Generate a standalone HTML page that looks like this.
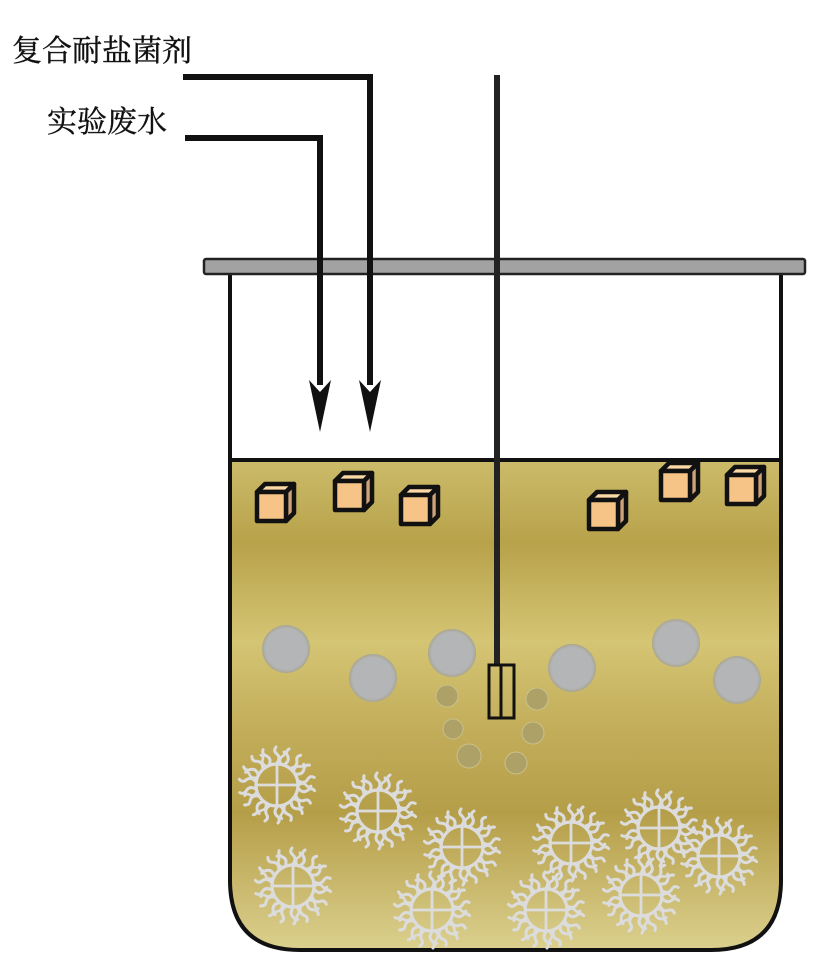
<!DOCTYPE html>
<html><head><meta charset="utf-8"><style>
html,body{margin:0;padding:0;background:#fff;width:827px;height:956px;overflow:hidden}
</style></head><body>
<svg width="827" height="956" viewBox="0 0 827 956" xmlns="http://www.w3.org/2000/svg">
<defs>
<linearGradient id="liq" x1="0" y1="460" x2="0" y2="950" gradientUnits="userSpaceOnUse">
<stop offset="0" stop-color="#cbbb6a"/>
<stop offset="0.17" stop-color="#b8a24a"/>
<stop offset="0.37" stop-color="#d4c574"/>
<stop offset="0.55" stop-color="#c2ad5a"/>
<stop offset="0.72" stop-color="#b59e48"/>
<stop offset="1" stop-color="#dbd08e"/>
</linearGradient>
<radialGradient id="gc"><stop offset="0.85" stop-color="#b4b5b7"/><stop offset="1" stop-color="#a9a690"/></radialGradient>
<g id="hair" fill="none" stroke="#dcdcdc" stroke-width="3" stroke-linecap="round">
<path d="M0,-22 q4,-5 0,-9 q-4,-3 -1,-7"/>
</g>
<g id="hair2" fill="none" stroke="#dcdcdc" stroke-width="2.6" stroke-linecap="round">
<path d="M0,-22 q-3,-4 0,-7 q3,-2 1,-5"/>
</g>
<g id="bac">
<circle r="21" fill="none" stroke="#dcdcdc" stroke-width="3.2"/>
<line x1="-21" y1="0" x2="21" y2="0" stroke="#dcdcdc" stroke-width="2.8"/>
<line x1="0" y1="-21" x2="0" y2="21" stroke="#dcdcdc" stroke-width="2.8"/>
<use href="#hair"/><use href="#hair" transform="rotate(20)"/><use href="#hair" transform="rotate(40)"/>
<use href="#hair" transform="rotate(60)"/><use href="#hair" transform="rotate(80)"/><use href="#hair" transform="rotate(100)"/>
<use href="#hair" transform="rotate(120)"/><use href="#hair" transform="rotate(140)"/><use href="#hair" transform="rotate(160)"/>
<use href="#hair" transform="rotate(180)"/><use href="#hair" transform="rotate(200)"/><use href="#hair" transform="rotate(220)"/>
<use href="#hair" transform="rotate(240)"/><use href="#hair" transform="rotate(260)"/><use href="#hair" transform="rotate(280)"/>
<use href="#hair" transform="rotate(300)"/><use href="#hair" transform="rotate(320)"/><use href="#hair" transform="rotate(340)"/>
<use href="#hair2" transform="rotate(10)"/><use href="#hair2" transform="rotate(50)"/><use href="#hair2" transform="rotate(90)"/>
<use href="#hair2" transform="rotate(130)"/><use href="#hair2" transform="rotate(170)"/><use href="#hair2" transform="rotate(210)"/>
<use href="#hair2" transform="rotate(250)"/><use href="#hair2" transform="rotate(290)"/><use href="#hair2" transform="rotate(330)"/>
</g>
<g id="cube" stroke="#111" stroke-width="4.5" stroke-linejoin="round">
<path d="M0,8 l8,-8 h29 l-8,8 z" fill="#fbd9a6"/>
<path d="M29,8 l8,-8 v29 l-8,8 z" fill="#cfa37a"/>
<rect x="0" y="8" width="29" height="29" fill="#f6c486"/>
</g>
</defs>

<path d="M230,460 H781 V880 Q781,950 711,950 H300 Q230,950 230,880 Z" fill="url(#liq)"/>
<path d="M230,272 V880 Q230,950 300,950 H711 Q781,950 781,880 V272" fill="none" stroke="#111" stroke-width="4"/>
<line x1="230" y1="460" x2="781" y2="460" stroke="#111" stroke-width="4"/>
<rect x="204" y="259" width="601" height="15" rx="2" fill="#a2a2a2" stroke="#222" stroke-width="2.5"/>

<path d="M183,77 H370 V385" fill="none" stroke="#111" stroke-width="6"/>
<path d="M359,380 L370,432 L381,380 L370,392 Z" fill="#111"/>
<path d="M185,138 H320 V385" fill="none" stroke="#111" stroke-width="6"/>
<path d="M309,380 L320,432 L331,380 L320,392 Z" fill="#111"/>

<line x1="497" y1="75" x2="497" y2="665" stroke="#222" stroke-width="6"/>
<rect x="489" y="665" width="25" height="53" fill="none" stroke="#111" stroke-width="3"/>
<line x1="501" y1="665" x2="501" y2="718" stroke="#111" stroke-width="3"/>

<use href="#cube" x="257" y="484"/>
<use href="#cube" x="335" y="473"/>
<use href="#cube" x="401" y="487"/>
<use href="#cube" x="589" y="492"/>
<use href="#cube" x="661" y="463"/>
<use href="#cube" x="727" y="467"/>

<g fill="url(#gc)">
<circle cx="286" cy="649" r="24"/><circle cx="373" cy="678" r="24"/><circle cx="452" cy="653" r="24"/>
<circle cx="572" cy="668" r="24"/><circle cx="676" cy="643" r="24"/><circle cx="737" cy="680" r="24"/>
</g>
<g fill="#ada167" stroke="#c9c08a" stroke-width="1">
<circle cx="447" cy="696" r="11"/><circle cx="453" cy="729" r="10"/><circle cx="469" cy="756" r="12"/>
<circle cx="537" cy="699" r="11"/><circle cx="533" cy="733" r="11"/><circle cx="516" cy="763" r="11"/>
</g>

<use href="#bac" transform="translate(277,785)"/>
<use href="#bac" transform="translate(378,811)"/>
<use href="#bac" transform="translate(462,847)"/>
<use href="#bac" transform="translate(571,843)"/>
<use href="#bac" transform="translate(659,828)"/>
<use href="#bac" transform="translate(719,856)"/>
<use href="#bac" transform="translate(293,886)"/>
<use href="#bac" transform="translate(432,910)"/>
<use href="#bac" transform="translate(546,910)"/>
<use href="#bac" transform="translate(641,895)"/>

<text x="12" y="61" font-family="'Liberation Serif','Noto Serif CJK SC',serif" font-size="30" fill="#111" stroke="#111" stroke-width="0.4">复合耐盐菌剂</text>
<text x="47" y="132" font-family="'Liberation Serif','Noto Serif CJK SC',serif" font-size="30" fill="#111" stroke="#111" stroke-width="0.4">实验废水</text>
</svg>
</body></html>
